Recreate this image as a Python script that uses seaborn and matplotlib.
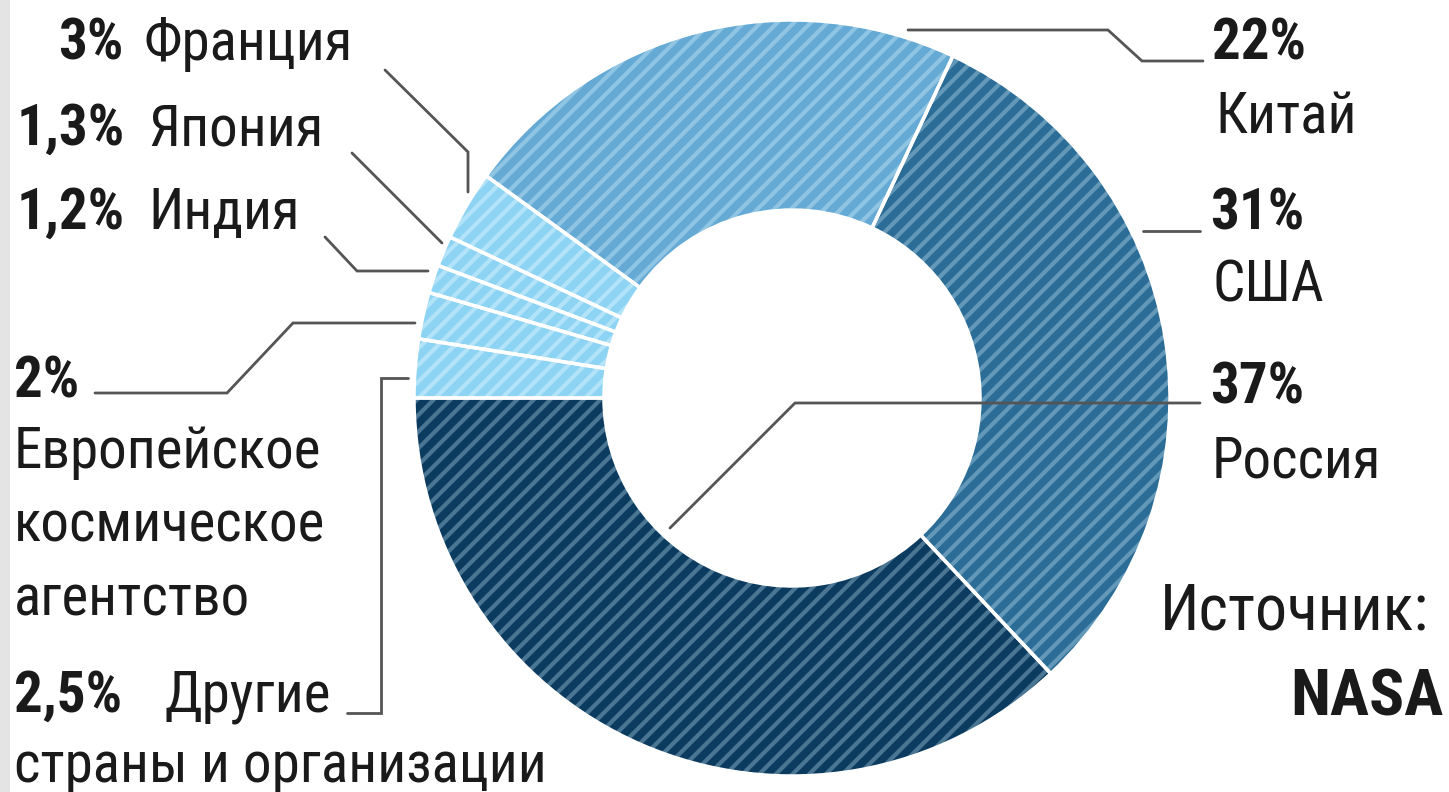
import numpy as np
import matplotlib
matplotlib.use("Agg")
import matplotlib.pyplot as plt
import seaborn as sns
from matplotlib import font_manager
from matplotlib.patches import Rectangle

# --- data (shares of the ISS by country) ---
countries = ["Россия", "США", "Китай", "Франция", "Япония", "Индия",
             "Европейское космическое агентство", "Другие страны и организации"]
shares = [37, 31, 22, 3, 1.3, 1.2, 2, 2.5]
pct_labels = ["37%", "31%", "22%", "3%", "1,3%", "1,2%", "2%", "2,5%"]
source = "NASA"

face_colors = ["#0b3b5f", "#2b6d96", "#64aad5", "#8dd4f4", "#8dd4f4", "#8dd4f4", "#8dd4f4", "#8dd4f4"]
stripe_colors = ["#4a7593", "#6398b9", "#8fc4e3", "#b3e3f8", "#b3e3f8", "#b3e3f8", "#b3e3f8", "#b3e3f8"]

W, H = 1449, 792

sns.set_theme(style="white")
names = {f.name for f in font_manager.fontManager.ttflist}
FONT = "DejaVu Sans"
for cand in ["Liberation Sans Narrow", "Roboto Condensed", "Open Sans Condensed", "Liberation Sans"]:
    if cand in names:
        FONT = cand
        break
plt.rcParams["font.family"] = [FONT, "DejaVu Sans"]
plt.rcParams["hatch.linewidth"] = 3.0

fig = plt.figure(figsize=(W / 100, H / 100), dpi=100)
ax = fig.add_axes([0, 0, 1, 1])


def P(x, y):
    # picture pixel (y down) -> data coords (y up)
    return x, H - y


cx, cy = P(792, 398)
wedges, _ = ax.pie(shares, startangle=180, counterclock=True, center=(cx, cy), radius=378,
                   wedgeprops=dict(width=190, linewidth=0))
for w, fc, sc in zip(wedges, face_colors, stripe_colors):
    w.set_facecolor(fc)
    w.set_edgecolor(sc)
    w.set_hatch("//")
    w.set_linewidth(0)

# white separators between slices
ax.pie(shares, startangle=180, counterclock=True, center=(cx, cy), radius=378,
       wedgeprops=dict(width=190, fill=False, edgecolor="white", linewidth=2.5))

ax.set_xlim(0, W)
ax.set_ylim(0, H)
ax.set_aspect("equal")
ax.axis("off")

# leader lines
leaders = [
    [(908, 30), (1108, 30), (1142, 61), (1203, 61)],
    [(1143, 231), (1200, 231)],
    [(670, 528), (795, 403), (1200, 403)],
    [(385, 70), (468, 152), (468, 192)],
    [(352, 153), (442, 243)],
    [(325, 237), (357, 271), (428, 271)],
    [(95, 393), (227, 393), (293, 323), (415, 323)],
    [(347, 713), (381, 713), (381, 378), (408, 378)],
]
for pts in leaders:
    xs, ys = zip(*[P(*p) for p in pts])
    ax.plot(xs, ys, color="#555555", lw=2.0, solid_joinstyle="miter")

fs = 41
txt = dict(fontsize=fs, color="#1a1a1a", va="baseline", ha="left")


def label(x, y, s, bold=False, **kw):
    opts = dict(txt)
    opts.update(kw)
    ax.text(*P(x, y), s, fontweight="bold" if bold else "normal", **opts)


# right side: Russia, USA, China
label(1210, 403, pct_labels[0], bold=True)
label(1212, 477, countries[0])
label(1210, 230, pct_labels[1], bold=True)
label(1212, 302, countries[1])
label(1212, 60, pct_labels[2], bold=True)
label(1215, 133, countries[2])

# left side small slices
label(58, 60, pct_labels[3], bold=True)
label(143, 60, countries[3])
label(17, 145, pct_labels[4], bold=True)
label(148, 145, countries[4])
label(17, 229, pct_labels[5], bold=True)
label(148, 229, countries[5])

label(14, 397, pct_labels[6], bold=True)
for yb, line in zip([468, 542, 615], ["Европейское", "космическое", "агентство"]):
    label(14, yb, line)

label(14, 712, pct_labels[7], bold=True)
label(165, 712, "Другие")
label(14, 782, "страны и организации")

# source
label(1160, 630, "Источник:", fontsize=46)
label(1444, 716, source, bold=True, ha="right", fontsize=47)

# light grey strip on the left edge
fig.patches.append(Rectangle((0, 0), 10 / W, 1, transform=fig.transFigure,
                             facecolor="#e4e4e4", edgecolor="none", zorder=-1))

fig.savefig("out.png", dpi=100, facecolor="white")
